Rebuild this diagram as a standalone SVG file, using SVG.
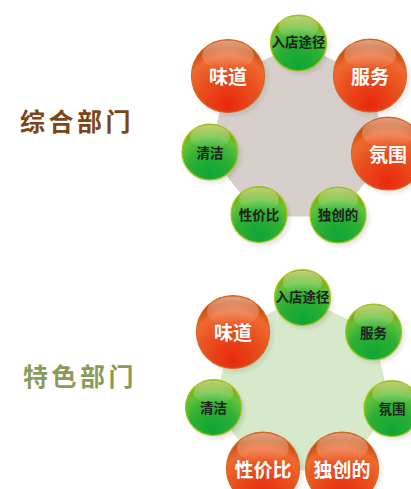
<svg xmlns="http://www.w3.org/2000/svg" width="411" height="489" viewBox="0 0 411 489">
<defs>
<radialGradient id="redG" cx="50%" cy="85%" r="75%" fx="50%" fy="90%">
<stop offset="0" stop-color="#e8280e"/>
<stop offset="0.55" stop-color="#e9501e"/>
<stop offset="0.85" stop-color="#ee6a30"/>
<stop offset="1" stop-color="#c85012"/>
</radialGradient>
<radialGradient id="greenG" cx="50%" cy="85%" r="75%" fx="50%" fy="90%">
<stop offset="0" stop-color="#0ea536"/>
<stop offset="0.55" stop-color="#2fb034"/>
<stop offset="0.85" stop-color="#62c238"/>
<stop offset="1" stop-color="#7fae10"/>
</radialGradient>
<linearGradient id="gloss" x1="0" y1="0" x2="0" y2="1">
<stop offset="0" stop-color="#ffffff" stop-opacity="0.45"/>
<stop offset="1" stop-color="#ffffff" stop-opacity="0"/>
</linearGradient>
<radialGradient id="shadow" cx="50%" cy="50%" r="50%">
<stop offset="0.7" stop-color="#000" stop-opacity="0.16"/>
<stop offset="1" stop-color="#000" stop-opacity="0"/>
</radialGradient>
</defs>
<style>
.red{fill:url(#redG);stroke:#d4661a;stroke-width:1.2}
.green{fill:url(#greenG);stroke:#a8c21a;stroke-width:1.2}
.gl{fill:url(#gloss)}
.sh{fill:url(#shadow)}
.tr{font-family:"Noto Sans CJK SC","Noto Sans",sans-serif;font-size:19px;font-weight:bold;fill:#ffffff;text-anchor:middle;dominant-baseline:central}
.tg{font-family:"Noto Sans CJK SC","Noto Sans",sans-serif;font-size:13.5px;font-weight:bold;fill:#1e1e1e;text-anchor:middle;dominant-baseline:central}
.lbl{font-family:"Noto Sans CJK SC","Noto Sans",sans-serif;font-size:25px;font-weight:bold;letter-spacing:3.5px}
</style>
<rect width="411" height="489" fill="#ffffff"/>

<g id="label-top"><text class="lbl" x="20" y="131" fill="#7b4515">综合部门</text></g>
<g id="label-bottom"><text class="lbl" x="23" y="386" fill="#8a9a5a">特色部门</text></g>

<g id="hub-top"><polygon points="298.5,43.5 369.6,77.8 387.2,154.7 338,216.5 259,216.5 209.8,154.7 227.4,77.8" fill="#d7cfcc"/></g>
<g id="hub-bottom"><polygon points="302.5,297.5 373.6,331.8 391.2,408.7 342,470.5 263,470.5 213.8,408.7 231.4,331.8" fill="#d6e9cb"/></g>

<g id="connectors"></g>

<!-- top diagram -->
<g id="t-rudian"><circle class="sh" cx="301" cy="46" r="31"/><circle class="green" cx="298.5" cy="43" r="28"/><ellipse class="gl" cx="298.5" cy="28" rx="20" ry="12"/><text class="tg" x="298.5" y="41">入店途径</text></g>
<g id="t-fuwu"><circle class="sh" cx="373" cy="79" r="40"/><circle class="red" cx="370" cy="75.5" r="36.5"/><ellipse class="gl" cx="370" cy="55" rx="26" ry="15"/><text class="tr" x="370" y="75">服务</text></g>
<g id="t-fenwei"><circle class="sh" cx="391" cy="157" r="40"/><circle class="red" cx="388" cy="153.5" r="36.5"/><ellipse class="gl" cx="388" cy="133" rx="26" ry="15"/><text class="tr" x="388" y="153">氛围</text></g>
<g id="t-duchuang"><circle class="sh" cx="341" cy="218" r="31"/><circle class="green" cx="338" cy="215" r="28"/><ellipse class="gl" cx="338" cy="200" rx="20" ry="12"/><text class="tg" x="338" y="214">独创的</text></g>
<g id="t-xingjia"><circle class="sh" cx="262" cy="218" r="31"/><circle class="green" cx="259" cy="214.5" r="28"/><ellipse class="gl" cx="259" cy="199.5" rx="20" ry="12"/><text class="tg" x="259" y="214">性价比</text></g>
<g id="t-qingjie"><circle class="sh" cx="213" cy="155" r="31"/><circle class="green" cx="210" cy="152" r="28"/><ellipse class="gl" cx="210" cy="137" rx="20" ry="12"/><text class="tg" x="210" y="152">清洁</text></g>
<g id="t-weidao"><circle class="sh" cx="231" cy="79.5" r="40"/><circle class="red" cx="228" cy="76" r="36.5"/><ellipse class="gl" cx="228" cy="55.5" rx="26" ry="15"/><text class="tr" x="228" y="75">味道</text></g>

<!-- bottom diagram -->
<g id="b-rudian"><circle class="sh" cx="305" cy="300.5" r="31"/><circle class="green" cx="302.5" cy="297.5" r="28"/><ellipse class="gl" cx="302.5" cy="282.5" rx="20" ry="12"/><text class="tg" x="302.5" y="296">入店途径</text></g>
<g id="b-fuwu"><circle class="sh" cx="376.5" cy="335" r="31"/><circle class="green" cx="373.6" cy="332" r="28"/><ellipse class="gl" cx="373.6" cy="317" rx="20" ry="12"/><text class="tg" x="373.6" y="332">服务</text></g>
<g id="b-fenwei"><circle class="sh" cx="395" cy="411.5" r="31"/><circle class="green" cx="392" cy="408.5" r="28"/><ellipse class="gl" cx="392" cy="393.5" rx="20" ry="12"/><text class="tg" x="392" y="408">氛围</text></g>
<g id="b-duchuang"><circle class="sh" cx="345" cy="472" r="40"/><circle class="red" cx="342" cy="468.5" r="36.5"/><ellipse class="gl" cx="342" cy="448" rx="26" ry="15"/><text class="tr" x="342" y="468">独创的</text></g>
<g id="b-xingjia"><circle class="sh" cx="266" cy="472" r="40"/><circle class="red" cx="263" cy="468.5" r="36.5"/><ellipse class="gl" cx="263" cy="448" rx="26" ry="15"/><text class="tr" x="263" y="468">性价比</text></g>
<g id="b-qingjie"><circle class="sh" cx="216.5" cy="411" r="31"/><circle class="green" cx="213.5" cy="407.5" r="28"/><ellipse class="gl" cx="213.5" cy="392.5" rx="20" ry="12"/><text class="tg" x="213.5" y="407">清洁</text></g>
<g id="b-weidao"><circle class="sh" cx="236" cy="335.5" r="40"/><circle class="red" cx="233" cy="332" r="36.5"/><ellipse class="gl" cx="233" cy="311.5" rx="26" ry="15"/><text class="tr" x="233" y="331">味道</text></g>
</svg>
